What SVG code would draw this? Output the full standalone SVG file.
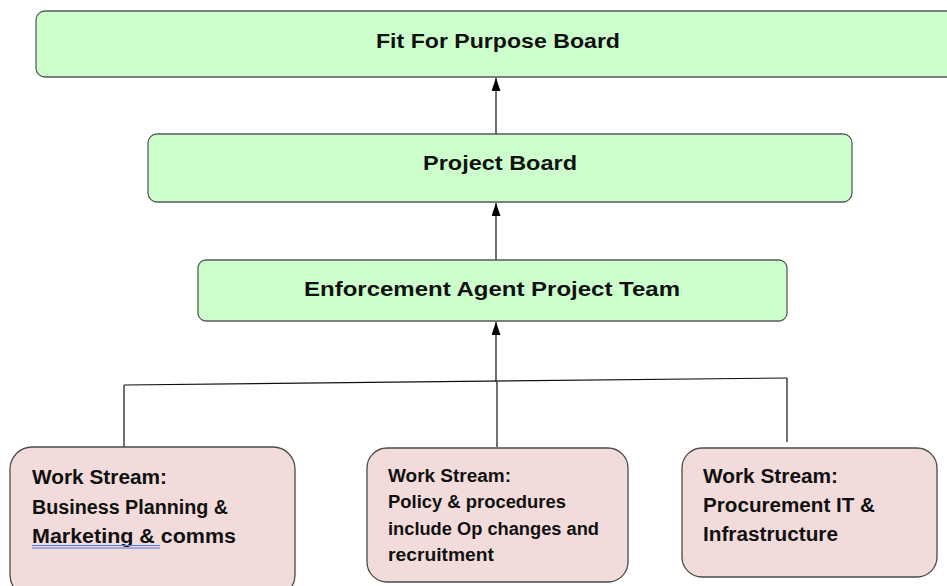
<svg xmlns="http://www.w3.org/2000/svg" width="947" height="586" viewBox="0 0 947 586">
  <defs>
    <marker id="arrow" viewBox="0 0 13 9" refX="13" refY="4.5" markerWidth="13" markerHeight="9" markerUnits="userSpaceOnUse" orient="auto">
      <path d="M0,0 L13,4.5 L0,9 Z" fill="#000"/>
    </marker>
    <style>
      .board { fill: #ccffcc; stroke: #5a5a5a; stroke-width: 1.3; }
      .stream { fill: #f2dcdb; stroke: #4a4a4a; stroke-width: 1.3; }
      .title { font-family: "Liberation Sans", Arial, sans-serif; font-weight: bold; font-size: 21px; fill: #111; }
      .ws { font-family: "Liberation Sans", Arial, sans-serif; font-weight: bold; font-size: 20px; fill: #111; }
      .ws2 { font-family: "Liberation Sans", Arial, sans-serif; font-weight: bold; font-size: 17.5px; fill: #111; }
      .link { fill: none; stroke: #111; stroke-width: 1.2; }
      .uline { stroke: #4a7be0; stroke-width: 1; }
    </style>
  </defs>

  <rect width="947" height="586" fill="#fff"/>

  <!-- connectors -->
  <g id="connectors">
    <line class="link" x1="496" y1="134" x2="496" y2="78" marker-end="url(#arrow)"/>
    <line class="link" x1="496" y1="260" x2="496" y2="203" marker-end="url(#arrow)"/>
    <line class="link" x1="496" y1="382" x2="496" y2="322" marker-end="url(#arrow)"/>
    <line class="link" x1="124" y1="385" x2="787" y2="378"/>
    <line class="link" x1="124" y1="385" x2="124" y2="456"/>
    <line class="link" x1="497" y1="382" x2="497" y2="447"/>
    <line class="link" x1="787" y1="378" x2="787" y2="442"/>
  </g>

  <g id="fit-for-purpose-board">
    <rect class="board" x="36" y="11" width="930" height="66" rx="9"/>
    <text class="title" x="376" y="48" textLength="244" lengthAdjust="spacingAndGlyphs">Fit For Purpose Board</text>
  </g>

  <g id="project-board">
    <rect class="board" x="148" y="134" width="704" height="68" rx="9"/>
    <text class="title" x="423" y="170" textLength="154" lengthAdjust="spacingAndGlyphs">Project Board</text>
  </g>

  <g id="project-team">
    <rect class="board" x="198" y="260" width="589" height="61" rx="8"/>
    <text class="title" x="304" y="296" textLength="376" lengthAdjust="spacingAndGlyphs">Enforcement Agent Project Team</text>
  </g>

  <g id="stream-business">
    <rect class="stream" x="10" y="447" width="285" height="150" rx="22"/>
    <text class="ws" x="32" y="484" textLength="135" lengthAdjust="spacingAndGlyphs">Work Stream:</text>
    <text class="ws" x="32" y="514" textLength="196" lengthAdjust="spacingAndGlyphs">Business Planning &amp;</text>
    <text class="ws" x="32" y="543" textLength="204" lengthAdjust="spacingAndGlyphs">Marketing  &amp; comms</text>
    <line class="uline" x1="32" y1="545.5" x2="160" y2="545.5"/>
    <line class="uline" x1="32" y1="548" x2="160" y2="548"/>
  </g>

  <g id="stream-policy">
    <rect class="stream" x="367" y="448" width="261" height="134" rx="20"/>
    <text class="ws2" x="388" y="482" textLength="123" lengthAdjust="spacingAndGlyphs">Work Stream:</text>
    <text class="ws2" x="388" y="508" textLength="178" lengthAdjust="spacingAndGlyphs">Policy &amp; procedures</text>
    <text class="ws2" x="388" y="535" textLength="211" lengthAdjust="spacingAndGlyphs">include Op changes and</text>
    <text class="ws2" x="388" y="561" textLength="106" lengthAdjust="spacingAndGlyphs">recruitment</text>
  </g>

  <g id="stream-procurement">
    <rect class="stream" x="682" y="448" width="255" height="129" rx="20"/>
    <text class="ws" x="703" y="483" textLength="135" lengthAdjust="spacingAndGlyphs">Work Stream:</text>
    <text class="ws" x="703" y="512" textLength="172" lengthAdjust="spacingAndGlyphs">Procurement IT &amp;</text>
    <text class="ws" x="703" y="541" textLength="135" lengthAdjust="spacingAndGlyphs">Infrastructure</text>
  </g>
</svg>
